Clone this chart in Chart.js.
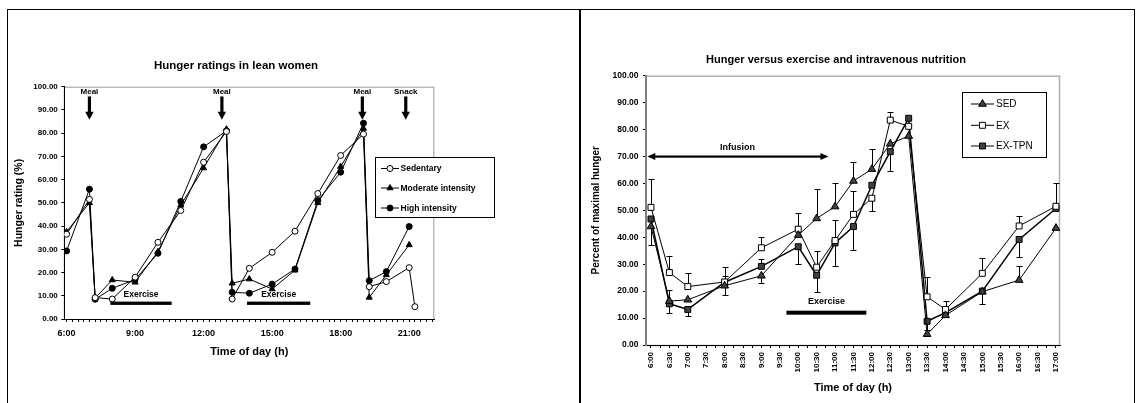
<!DOCTYPE html>
<html>
<head>
<meta charset="utf-8">
<script src="https://cdn.jsdelivr.net/npm/chart.js@4.4.1/dist/chart.umd.min.js"></script>
<style>
  body { margin: 0; background: #fff; width: 1141px; height: 403px; overflow: hidden; position: relative; }
  .rule { position: absolute; background: #000; }
  canvas { position: absolute; }
</style>
</head>
<body>
<div class="rule" style="left:7px;top:9px;width:1128px;height:1px"></div>
<div class="rule" style="left:7px;top:9px;width:1px;height:394px"></div>
<div class="rule" style="left:579px;top:9px;width:2px;height:394px"></div>
<div class="rule" style="left:1134px;top:9px;width:1px;height:394px"></div>
<canvas id="leftChart" width="564" height="393" style="left:9px;top:10px"></canvas>
<canvas id="rightChart" width="551" height="393" style="left:582px;top:10px"></canvas>

<script>
  // ---- left panel: hunger ratings in lean women ----
  var leftTimes = [6, 7, 7.25, 8, 9, 10, 11, 12, 13, 13.25, 14, 15, 16, 17, 18, 19, 19.25, 20, 21, 21.25];
  var sedentary = [36.5, 51.5, 9.2, 8.6, 18, 33, 46.7, 67.5, 80.7, 8.6, 21.8, 28.7, 37.8, 54, 70.4, 79.6, 13.9, 16.1, 22.1, 5.3];
  var moderate  = [37.5, 50, 9, 16.8, 15.8, 29, 49, 65, 81.7, 15.4, 17.2, 12.9, 21, 50, 65.6, 82, 9.3, 19, 31.9, null];
  var highInt   = [29.3, 55.9, 8.5, 13.2, 17, 28.3, 50.6, 74.1, 81, 11.5, 11.1, 15, 21.5, 51, 63.2, 84.3, 16.5, 20.4, 39.8, null];
  var mealTimes = [7, 12.8, 18.95];
  var snackTimes = [20.85];
  var leftExercise = [[7.92, 10.6], [13.9, 16.67]];
  var leftXLabels = [6, 9, 12, 15, 18, 21];

  // ---- right panel: hunger versus exercise and intravenous nutrition ----
  var rightTimes = [6, 6.5, 7, 8, 9, 10, 10.5, 11, 11.5, 12, 12.5, 13, 13.5, 14, 15, 16, 17];
  var sed   = [44, 16.3, 16.8, 22, 25.7, 40.8, 47, 51.4, 60.9, 65.3, 74.7, 77.6, 4, 11, 19.8, 24.1, 43.4];
  var ex    = [51.1, 26.9, 21.7, 23.4, 36.1, 43, 28.9, 38.8, 48.5, 54.5, 83.5, 81.2, 17.9, 13.2, 26.6, 44.2, 51.5];
  var exTpn = [46.8, 15.3, 13.2, 23.3, 29.2, 36.5, 25.9, 37.9, 44, 59.3, 71.8, 84.2, 8.8, 12, 20, 39.2, 50.7];
  var sedErrUp    = [0, 4, 0, 0, 0, 0, 11, 8.6, 7, 7.6, 0, 0, 0, 0, 0, 5.4, 0];
  var sedErrDown  = [7, 0, 0, 3.6, 2.5, 0, 0, 0, 0, 0, 0, 0, 0, 0, 0, 0, 0];
  var exErrUp     = [10.5, 6.3, 5, 5.7, 4.1, 6, 6, 7.6, 8.8, 0, 2.9, 0, 7.2, 3, 5.8, 3.8, 8.7];
  var exErrDown   = [0, 0, 0, 0, 0, 0, 0, 0, 0, 4.8, 0, 0, 0, 0, 0, 0, 0];
  var tpnErrUp    = [0, 0, 0, 2.4, 2.6, 0, 0, 0, 0, 0, 0, 0, 0, 0, 0, 0, 0];
  var tpnErrDown  = [0, 3.4, 2.3, 0, 0, 6.4, 6.4, 8.4, 8.7, 0, 7.2, 0, 3.2, 0, 4.9, 6.4, 0];
  var infusion = [5.9, 10.82];
  var rightExercise = [9.68, 11.85];

  var FONT = '"Liberation Sans", Arial, sans-serif';
  Chart.defaults.font.family = FONT;
  Chart.defaults.color = '#000';

  function pts(times, vals) {
    return times.map(function (t, i) { return { x: t, y: vals[i] }; });
  }

  function drawLegend(chart, box) {
    var ctx = chart.ctx;
    ctx.save();
    ctx.fillStyle = '#fff';
    ctx.fillRect(box.x, box.y, box.w, box.h);
    ctx.strokeStyle = '#000';
    ctx.lineWidth = 1;
    ctx.strokeRect(box.x + 0.5, box.y + 0.5, box.w, box.h);
    ctx.font = box.font;
    ctx.textBaseline = 'middle';
    chart.data.datasets.forEach(function (ds, i) {
      var y = box.rows[i];
      ctx.strokeStyle = '#000';
      ctx.lineWidth = 1;
      ctx.beginPath();
      ctx.moveTo(box.lx0, y);
      ctx.lineTo(box.lx1, y);
      ctx.stroke();
      ctx.fillStyle = ds.pointBackgroundColor;
      Chart.helpers.drawPoint(ctx, { pointStyle: ds.pointStyle, radius: ds.pointRadius, rotation: 0, borderWidth: 1 }, (box.lx0 + box.lx1) / 2, y);
      ctx.fillStyle = '#000';
      ctx.fillText(ds.label, box.tx, y + 0.5);
    });
    ctx.restore();
  }

  function downArrow(ctx, x, yTop, yTip) {
    ctx.fillRect(x - 1.6, yTop, 3.2, yTip - yTop - 7);
    ctx.beginPath();
    ctx.moveTo(x - 4.2, yTip - 8);
    ctx.lineTo(x + 4.2, yTip - 8);
    ctx.lineTo(x, yTip);
    ctx.closePath();
    ctx.fill();
  }

  var leftDecor = {
    id: 'leftDecor',
    beforeDraw: function (chart) {
      var a = chart.chartArea, ctx = chart.ctx;
      ctx.save();
      ctx.strokeStyle = '#9a9a9a';
      ctx.lineWidth = 1;
      ctx.strokeRect(a.left, a.top + 0.5, a.right - a.left - 0.5, a.bottom - a.top);
      ctx.restore();
    },
    afterDraw: function (chart) {
      var ctx = chart.ctx, xs = chart.scales.x, ys = chart.scales.y;
      ctx.save();
      ctx.fillStyle = '#000';
      ctx.textAlign = 'center';
      ctx.textBaseline = 'middle';
      ctx.font = 'bold 11.5px ' + FONT;
      ctx.fillText('Hunger ratings in lean women', 227, 56);

      ctx.font = 'bold 8px ' + FONT;
      mealTimes.forEach(function (t) {
        var x = xs.getPixelForValue(t);
        ctx.fillText('Meal', x, ys.getPixelForValue(98));
        downArrow(ctx, x, ys.getPixelForValue(95.8), ys.getPixelForValue(85.8));
      });
      snackTimes.forEach(function (t) {
        var x = xs.getPixelForValue(t);
        ctx.fillText('Snack', x, ys.getPixelForValue(98));
        downArrow(ctx, x, ys.getPixelForValue(95.8), ys.getPixelForValue(85.8));
      });

      ctx.font = 'bold 8.5px ' + FONT;
      leftExercise.forEach(function (r) {
        var x0 = xs.getPixelForValue(r[0]), x1 = xs.getPixelForValue(r[1]);
        ctx.fillRect(x0, ys.getPixelForValue(6.8) - 1.6, x1 - x0, 3.3);
        ctx.fillText('Exercise', (x0 + x1) / 2, ys.getPixelForValue(10.6));
      });
      ctx.restore();

      drawLegend(chart, { x: 366, y: 147, w: 119, h: 60, rows: [158.5, 178, 198], lx0: 372, lx1: 390, tx: 391.5, font: 'bold 8.5px ' + FONT });
    }
  };

  var ctx0 = document.getElementById('leftChart').getContext('2d');
  var chart0 = new Chart(ctx0, {
    type: 'line',
    data: {
      datasets: [
        { label: 'Sedentary', data: pts(leftTimes, sedentary), borderColor: '#000', borderWidth: 1,
          pointStyle: 'circle', pointRadius: 3, pointBackgroundColor: '#fff', pointBorderColor: '#000', pointBorderWidth: 1 },
        { label: 'Moderate intensity', data: pts(leftTimes, moderate), borderColor: '#000', borderWidth: 1,
          pointStyle: 'triangle', pointRadius: 3.5, pointBackgroundColor: '#000', pointBorderColor: '#000', pointBorderWidth: 1 },
        { label: 'High intensity', data: pts(leftTimes, highInt), borderColor: '#000', borderWidth: 1,
          pointStyle: 'circle', pointRadius: 3, pointBackgroundColor: '#000', pointBorderColor: '#000', pointBorderWidth: 1 }
      ]
    },
    options: {
      responsive: false,
      animation: false,
      layout: { padding: { top: 76.7, right: 138.7, left: 0, bottom: 0 } },
      plugins: { legend: { display: false }, tooltip: { enabled: false } },
      scales: {
        x: {
          type: 'linear', min: 5.9, max: 22.1,
          afterFit: function (s) { s.height = 84; },
          border: { color: '#000', width: 1 },
          grid: { drawOnChartArea: false, color: '#000', tickLength: 3 },
          ticks: {
            stepSize: 0.25, autoSkip: false, includeBounds: false, maxRotation: 0, minRotation: 0, padding: 6,
            font: { size: 9, weight: 'bold' },
            callback: function (v) { return leftXLabels.indexOf(v) >= 0 ? v + ':00' : ''; }
          },
          title: { display: true, text: 'Time of day (h)', font: { size: 11, weight: 'bold' }, padding: { top: 0, bottom: 44.4 } }
        },
        y: {
          min: 0, max: 100,
          afterFit: function (s) { s.width = 55.3; },
          border: { color: '#000', width: 1 },
          grid: { drawOnChartArea: false, color: '#000', tickLength: 3 },
          ticks: { stepSize: 10, padding: 3.5, font: { size: 8, weight: 'bold' },
            callback: function (v) { return v.toFixed(2); } },
          title: { display: true, text: 'Hunger rating (%)', font: { size: 10.5, weight: 'bold' }, padding: { top: 3.7, bottom: 0 } }
        }
      }
    },
    plugins: [leftDecor]
  });

  var errorSets = [[sedErrUp, sedErrDown], [exErrUp, exErrDown], [tpnErrUp, tpnErrDown]];

  var rightDecor = {
    id: 'rightDecor',
    beforeDraw: function (chart) {
      var a = chart.chartArea, ctx = chart.ctx;
      ctx.save();
      ctx.strokeStyle = '#b0b0b0';
      ctx.lineWidth = 1.5;
      ctx.strokeRect(a.left, a.top + 0.5, a.right - a.left - 0.5, a.bottom - a.top);
      ctx.restore();
    },
    beforeDatasetsDraw: function (chart) {
      var ctx = chart.ctx, xs = chart.scales.x, ys = chart.scales.y;
      ctx.save();
      ctx.strokeStyle = '#000';
      ctx.lineWidth = 1;
      chart.data.datasets.forEach(function (ds, d) {
        var up = errorSets[d][0], down = errorSets[d][1];
        ds.data.forEach(function (p, i) {
          var x = Math.round(xs.getPixelForValue(p.x)) + 0.5, y = ys.getPixelForValue(p.y);
          [[up[i], 1], [down[i], -1]].forEach(function (e) {
            if (!e[0]) return;
            var ye = Math.round(ys.getPixelForValue(p.y + e[1] * e[0])) + 0.5;
            ctx.beginPath();
            ctx.moveTo(x, y);
            ctx.lineTo(x, ye);
            ctx.moveTo(x - 3, ye);
            ctx.lineTo(x + 3, ye);
            ctx.stroke();
          });
        });
      });
      ctx.restore();
    },
    afterDraw: function (chart) {
      var ctx = chart.ctx, xs = chart.scales.x, ys = chart.scales.y;
      ctx.save();
      ctx.fillStyle = '#000';
      ctx.strokeStyle = '#000';
      ctx.textAlign = 'center';
      ctx.textBaseline = 'middle';
      ctx.font = 'bold 11px ' + FONT;
      ctx.fillText('Hunger versus exercise and intravenous nutrition', 254, 49.5);

      // infusion double arrow
      var x0 = xs.getPixelForValue(infusion[0]), x1 = xs.getPixelForValue(infusion[1]);
      var yi = ys.getPixelForValue(70);
      ctx.fillRect(x0 + 6, yi - 1, x1 - x0 - 12, 2.2);
      ctx.beginPath();
      ctx.moveTo(x0, yi); ctx.lineTo(x0 + 8, yi - 3.5); ctx.lineTo(x0 + 8, yi + 3.5); ctx.closePath();
      ctx.moveTo(x1, yi); ctx.lineTo(x1 - 8, yi - 3.5); ctx.lineTo(x1 - 8, yi + 3.5); ctx.closePath();
      ctx.fill();
      ctx.font = 'bold 9px ' + FONT;
      ctx.fillText('Infusion', xs.getPixelForValue(8.35), ys.getPixelForValue(73.4));

      // exercise bar
      var e0 = xs.getPixelForValue(rightExercise[0]), e1 = xs.getPixelForValue(rightExercise[1]);
      ctx.fillRect(e0, ys.getPixelForValue(12) - 2, e1 - e0, 4);
      ctx.fillText('Exercise', (e0 + e1) / 2, ys.getPixelForValue(16.1));
      ctx.restore();

      drawLegend(chart, { x: 380, y: 82, w: 84, h: 65, rows: [94, 115.3, 136], lx0: 389, lx1: 412, tx: 414, font: '10px ' + FONT });
    }
  };

  var ctx1 = document.getElementById('rightChart').getContext('2d');
  var chart1 = new Chart(ctx1, {
    type: 'line',
    data: {
      datasets: [
        { label: 'SED', data: pts(rightTimes, sed), borderColor: '#000', borderWidth: 1,
          pointStyle: 'triangle', pointRadius: 4.5, pointBackgroundColor: '#404040', pointBorderColor: '#000', pointBorderWidth: 1 },
        { label: 'EX', data: pts(rightTimes, ex), borderColor: '#000', borderWidth: 1,
          pointStyle: 'rect', pointRadius: 4.2, pointBackgroundColor: '#fff', pointBorderColor: '#000', pointBorderWidth: 1 },
        { label: 'EX-TPN', data: pts(rightTimes, exTpn), borderColor: '#000', borderWidth: 1.5,
          pointStyle: 'rect', pointRadius: 4.2, pointBackgroundColor: '#404040', pointBorderColor: '#000', pointBorderWidth: 1 }
      ]
    },
    options: {
      responsive: false,
      animation: false,
      layout: { padding: { top: 65.7, right: 73, left: 0, bottom: 0 } },
      plugins: { legend: { display: false }, tooltip: { enabled: false } },
      scales: {
        x: {
          type: 'linear', min: 5.865, max: 17.11,
          afterFit: function (s) { s.height = 58; },
          border: { color: '#000', width: 1 },
          grid: { drawOnChartArea: false, color: '#000', tickLength: 3 },
          ticks: {
            stepSize: 0.25, autoSkip: false, includeBounds: false, maxRotation: 90, minRotation: 90, padding: 4,
            font: { size: 8, weight: 'bold' },
            callback: function (v) {
              if ((v * 2) % 1 !== 0) return '';
              return Math.floor(v) + ':' + (v % 1 ? '30' : '00');
            }
          },
          title: { display: true, text: 'Time of day (h)', font: { size: 11, weight: 'bold' }, padding: { top: 0, bottom: 8.4 } }
        },
        y: {
          min: 0, max: 100,
          afterFit: function (s) { s.width = 64; },
          border: { color: '#808080', width: 2 },
          grid: { drawOnChartArea: false, color: '#000', tickLength: 3 },
          ticks: { stepSize: 10, padding: 4.5, font: { size: 8.5, weight: 'bold' },
            callback: function (v) { return v.toFixed(2); } },
          title: { display: true, text: 'Percent of maximal hunger', font: { size: 10, weight: 'bold' }, padding: { top: 8.7, bottom: 0 } }
        }
      }
    },
    plugins: [rightDecor]
  });
</script>
</body>
</html>
